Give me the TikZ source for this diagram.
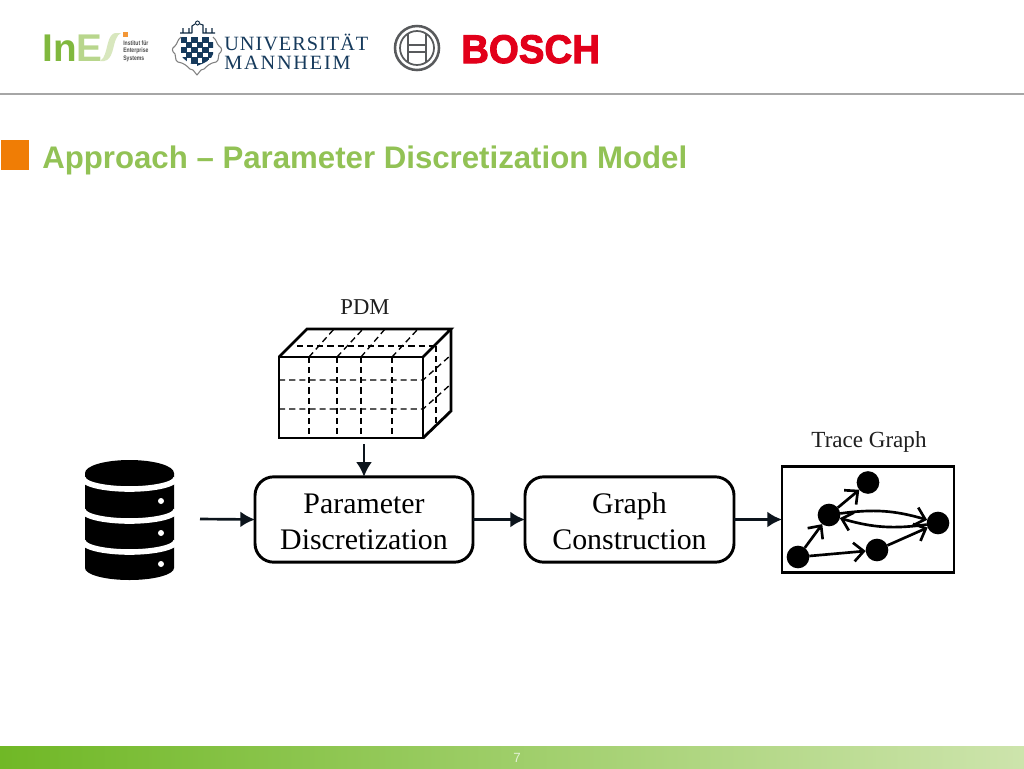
\documentclass[tikz,border=0pt]{standalone}
\usepackage{fontspec}
\usetikzlibrary{arrows.meta,calc}
\setmainfont{Liberation Serif}
\setsansfont{Liberation Sans}
\newfontfamily\unifont[LetterSpace=5]{Liberation Serif}
\newfontfamily\mannfont[LetterSpace=9]{Liberation Serif}
\newfontfamily\boschfont[FakeBold=2.5]{Liberation Sans Bold}
\definecolor{titlegreen}{RGB}{146,194,85}
\definecolor{inesgreen}{RGB}{128,184,62}
\definecolor{ineslight}{RGB}{184,214,140}
\definecolor{inespale}{RGB}{216,231,190}
\definecolor{footleft}{RGB}{112,184,38}
\definecolor{footright}{RGB}{205,228,172}
\definecolor{orangebox}{RGB}{240,125,5}
\definecolor{navy}{RGB}{22,58,92}
\definecolor{boschred}{RGB}{226,0,26}
\definecolor{boschgrey}{RGB}{88,90,92}
\definecolor{ink}{RGB}{12,20,28}
\newcommand{\downstrut}{\rule{0pt}{18pt}}
\tikzset{
  procbox/.style={draw=black,line width=2.2pt,rounded corners=14pt,minimum width=163.5pt,minimum height=64pt,inner sep=0pt,outer sep=0pt,align=center,font=\fontsize{22.4pt}{27.2pt}\selectfont},
  flow/.style={draw=ink,line width=2pt,-{Latex[length=11pt,width=12pt]}},
  state/.style={circle,fill=black,minimum size=17pt,inner sep=0pt,outer sep=0pt},
  edge/.style={draw=black,line width=2pt,-{Straight Barb[length=7.5pt,width=14pt,line width=2pt]}},
  solidcube/.style={draw=black,line width=2.1pt,line join=miter},
  dashcube/.style={draw=black,line width=1pt,dash pattern=on 4.6pt off 3pt},
  caption/.style={font=\fontsize{17pt}{19pt}\selectfont,text=black!88,inner sep=0pt},
}
\begin{document}
\begin{tikzpicture}[x=0.75pt,y=-0.75pt]
\useasboundingbox (0,0) rectangle (1024,768);
\fill[white] (0,0) rectangle (1024,768);
% header rule, footer
\draw[draw=black!35,line width=.8pt] (0,94) -- (1024,94);
\shade[left color=footleft,right color=footright,shading angle=90] (0,746) rectangle (1024,768);
\node[font=\sffamily\fontsize{10pt}{11pt}\selectfont,text=white!80!footleft] (pagenum) at (517,758) {7};
% title
\fill[orangebox] (1,140) rectangle (29,170);
\node[anchor=base west,inner sep=0pt,text=titlegreen,font=\sffamily\bfseries\fontsize{23.4pt}{26pt}\selectfont] (title) at (42,168) {Approach – Parameter Discretization Model};
% InES logo
\node[anchor=base west,inner sep=0pt,text=inesgreen,font=\sffamily\bfseries\fontsize{29pt}{30pt}\selectfont] (inesI) at (42,61) {In};
\node[anchor=base west,inner sep=0pt,text=ineslight,font=\sffamily\bfseries\fontsize{29pt}{30pt}\selectfont] (inesE) at (76.5,61) {E};
\fill[inespale] (104,61) .. controls (113,60) and (113,45) .. (116,39) .. controls (117,36) and (119,34) .. (121,33) -- (115,33) .. controls (108,35) and (108,46) .. (105,54) .. controls (104,57) and (103,59) .. (100,61) -- cycle;
\fill[orangebox!80] (123,32) rectangle (128,37);
\node[anchor=west,inner sep=0pt,text=black!70,font=\sffamily\bfseries\fontsize{4.9pt}{5.6pt}\selectfont] (inestext) at (123,51.5) {\scalebox{.78}[1]{\begin{tabular}{@{}l@{}}Institut für\\Enterprise\\Systems\end{tabular}}};
% Mannheim crest
\begin{scope}
\clip (181,37) -- (213,37) -- (213,54) .. controls (212,60) and (204,63) .. (197,66) .. controls (190,63) and (182,60) .. (181,54) -- cycle;
\fill[white] (181,37) rectangle (213,66);
\foreach \c in {0,...,5}{\foreach \r in {0,...,5}{
  \pgfmathparse{int(mod(\c+\r,2))}
  \ifnum\pgfmathresult=0 \fill[navy] ({180.5+\c*5.4},{36.5+\r*5.2}) rectangle ++(6.4,6.2);\fi
}}
\end{scope}
\draw[black!50,line width=.8pt,line join=round] (181,37) .. controls (177,40) and (178,43) .. (175,46) .. controls (171,49) and (172,51) .. (175,54) .. controls (177,57) and (174,60) .. (178,62) .. controls (184,63) and (187,66) .. (190,69) -- (193,70) -- (197,75) -- (201,70) -- (204,69) .. controls (207,66) and (210,63) .. (216,62) .. controls (220,60) and (217,57) .. (219,54) .. controls (222,51) and (223,49) .. (219,46) .. controls (216,43) and (217,40) .. (213,37);
\draw[navy!70!black,line width=.8pt] (180,33) -- (192,33) (183,33) -- (183,28) (189,33) -- (189,28) (192,33) -- (192,26) -- (195,24) (200,24) -- (203,25) -- (203,33) -- (215,33) (206,33) -- (206,28) (212,33) -- (212,28);
\draw[navy!70!black,line width=.7pt] (197.5,23) circle (2);
\node[anchor=base west,inner sep=0pt,text=navy,font=\unifont\fontsize{15.2pt}{16pt}\selectfont] (uni) at (224,50) {UNIVERSITÄT};
\node[anchor=base west,inner sep=0pt,text=navy,font=\mannfont\fontsize{15.2pt}{16pt}\selectfont] (mannheim) at (224,69) {MANNHEIM};
% Bosch logo
\draw[boschgrey,line width=1.9pt] (417,48) circle (22);
\draw[boschgrey,line width=1.3pt] (417,48) circle (17);
\draw[boschgrey,line width=1.5pt] (408,33.5) -- (408,62.5) (426,33.5) -- (426,62.5) (408,44.5) -- (426,44.5) (408,51.5) -- (426,51.5);
\node[anchor=base west,inner sep=0pt,text=boschred,font=\boschfont\fontsize{30pt}{34pt}\selectfont] (bosch) at (461,63) {\scalebox{.96}[1]{BOSCH}};
% PDM cube
\node[caption] (pdm) at (365,307) {PDM};
\coordinate (fa) at (279,357); \coordinate (fb) at (423,357);
\coordinate (fc) at (423,438); \coordinate (fd) at (279,438);
\coordinate (ba) at (307,329); \coordinate (bb) at (451,329); \coordinate (bc) at (451,411);
\foreach \x/\t in {309/334,337/363,361/385,392/418}{
  \draw[dashcube] (\x,357) -- (\x,438);
  \draw[dashcube] (\x,357) -- (\t,329);
}
\draw[dashcube] (279,380) -- (423,380) -- (451,355);
\draw[dashcube] (279,409) -- (423,409) -- (451,384);
\draw[dashcube] (297,346) -- (436,346);
\draw[dashcube] (436,346) -- (436,424);
\draw[solidcube] (fa) rectangle (fc);
\draw[solidcube] (fa) -- (ba) -- (bb) -- (fb);
\draw[solidcube] (bb) -- (bc) -- (fc);
% database
\fill[black] (85,473) -- (85,568) arc[start angle=180,end angle=0,x radius=44.5,y radius=12] -- (174,473) -- cycle;
\fill[black] (129.5,473) ellipse[x radius=44.5,y radius=13];
\foreach \yy in {478,510,541}{
  \draw[white,line width=4.2pt] (83,\yy) arc[start angle=180,end angle=0,x radius=46.5,y radius=11];
}
\foreach \yy in {501,533,564}{\fill[white] (161,\yy) circle (3);}
\coordinate (dbout) at (200,519);
% process boxes
\node[procbox] (param) at (364,519.5) {\downstrut Parameter\\Discretization};
\node[procbox,minimum width=156.75pt] (graph) at (629.5,519.5) {\downstrut Graph\\Construction};
% trace graph
\node[draw=black,line width=2.2pt,minimum width=129pt,minimum height=80pt,inner sep=0pt,outer sep=0pt] (tracebox) at (868,519.5) {};
\node[caption,font=\fontsize{17.3pt}{19pt}\selectfont] (tracelabel) at (869,442) {Trace Graph};
\node[state] (n1) at (868,482.5) {};
\node[state] (n2) at (829,515) {};
\node[state] (n3) at (938,523) {};
\node[state] (n4) at (877,550) {};
\node[state] (n5) at (798,557) {};
\draw[edge] (n5) -- (n2);
\draw[edge] (n2) -- (n1);
\draw[edge] (n5) -- (n4);
\draw[edge] (n4) -- (n3);
\draw[edge] (n2) to[bend left=12] (n3);
\draw[edge] (n3) to[bend left=12] (n2);
% main flow
\coordinate (pdmout) at (364,444);
\draw[flow] (pdmout) -- (param.north);
\draw[flow] (dbout) -- (param.west);
\draw[flow] (param.east) -- (graph.west);
\draw[flow] (graph.east) -- (tracebox.west);
\end{tikzpicture}
\end{document}
